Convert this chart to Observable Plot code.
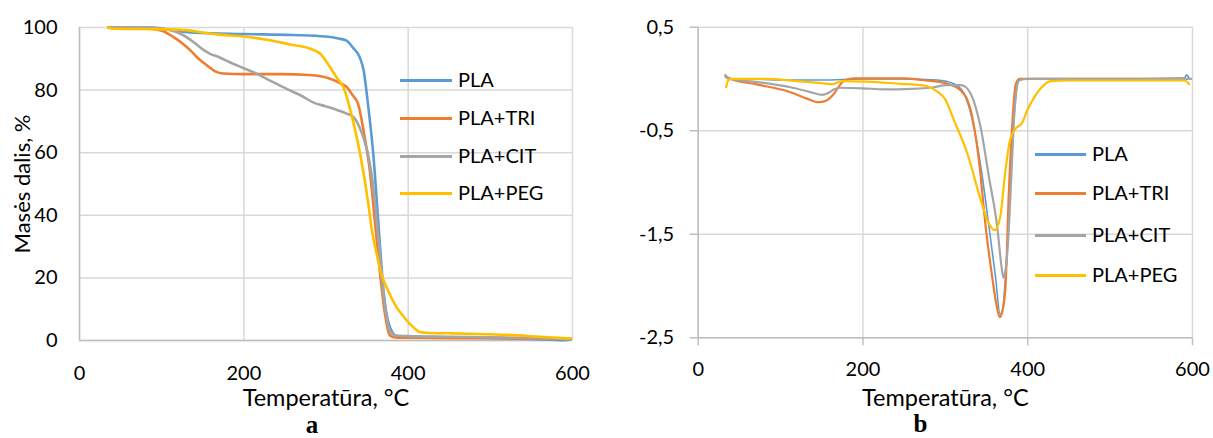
<!DOCTYPE html>
<html>
<head>
<meta charset="utf-8">
<script src="https://cdn.jsdelivr.net/npm/d3@7"></script>
<script src="https://cdn.jsdelivr.net/npm/@observablehq/plot@0.6"></script>
<style>
  html, body { margin: 0; padding: 0; background: #fff; }
  #wrap { position: relative; width: 1213px; height: 438px; overflow: hidden; font-family: Lato, "Liberation Sans", sans-serif; }
  .panel { position: absolute; top: 0; }
  .leg { position: absolute; font-size: 20px; color: #000; line-height: 1; white-space: nowrap; }
</style>
</head>
<body>
<div id="wrap"></div>
<script>
// ---------- data ----------
const seriesNames = ["PLA", "PLA+TRI", "PLA+CIT", "PLA+PEG"];
const seriesColors = ["#5B9BD5", "#ED7D31", "#A5A5A5", "#FFC000"];
const xTicks = [0, 200, 400, 600];
const yTicksA = [0, 20, 40, 60, 80, 100];
const yTicksB = [-2.5, -1.5, -0.5, 0.5];

// Panel a: TGA, mass %
const aPLA_T = [35, 80, 100, 120, 140, 200, 260, 300, 315, 325, 333, 341, 346, 351, 357.5, 363.6, 369.6, 374, 377.7, 381, 384, 390, 400, 450, 500, 550, 590, 598];
const aPLA_V = [100, 100, 99.6, 98.8, 98.3, 97.9, 97.6, 97.1, 96.5, 95.8, 93.5, 90.5, 86, 75.7, 59.7, 38, 17, 8, 4.3, 2.5, 1.6, 1.3, 1.2, 1.0, 0.8, 0.5, 0.1, 0.4];
const aTRI_T = [35, 80, 100, 114, 125, 135, 145, 155, 165, 175, 200, 244, 280, 305, 315, 325, 332, 339, 343, 347, 353.5, 359.5, 365.6, 371.7, 377.7, 384, 400, 500, 598];
const aTRI_V = [100, 99.7, 99, 97, 95, 92.7, 90, 87.9, 86, 85.3, 85.1, 85.1, 84.8, 83.6, 82.5, 81, 78.5, 75.6, 71, 65, 54, 38, 22, 8.6, 1.6, 1.0, 0.9, 0.7, 0.5];
const aCIT_T = [35, 90, 110, 123, 139, 150, 159, 170, 183, 200, 216, 235, 256, 270, 285, 300, 315, 325, 333, 341, 346, 351, 357.5, 363.6, 369.6, 374, 378, 384, 400, 450, 500, 550, 598];
const aCIT_V = [100, 100, 99.2, 98, 95.3, 93, 91.6, 90.5, 88.9, 87, 85.2, 82.6, 79.9, 78.2, 76, 74.8, 73.5, 72.5, 71.5, 68, 64.5, 59.7, 49, 33, 16, 7, 3, 1.6, 1.4, 1.2, 1.0, 0.8, 0.5];
const aPEG_T = [35, 40, 80, 110, 135, 150, 167, 200, 230, 256, 281, 293, 305, 313, 321, 333, 343, 351.5, 356, 361.6, 367, 373.7, 380, 386, 395, 402, 408, 414, 425, 450, 487, 520, 560, 598];
const aPEG_V = [100, 99.6, 99.5, 99.4, 99, 98.4, 97.8, 97.1, 96, 94.6, 93.2, 91.6, 87.3, 84, 81, 70, 57.5, 43.7, 35, 27.7, 21.5, 17, 13.5, 10.6, 7.5, 5.3, 3.8, 2.7, 2.4, 2.3, 2.1, 1.8, 1.2, 0.6];

// Panel b: DTG
const bPLA_T = [33, 36, 60, 100, 150, 175, 200, 250, 290, 310.5, 322.6, 334.8, 345, 353, 361, 366.4, 369, 373, 378.5, 382.6, 387.5, 391, 450, 500, 590, 593, 596];
const bPLA_V = [0.04, 0, 0, -0.01, -0.01, -0.005, 0, 0, -0.01, -0.047, -0.14, -0.47, -0.95, -1.43, -1.92, -2.27, -2.25, -1.92, -1.11, -0.47, -0.05, 0, 0, 0, 0.01, 0.04, 0];
const bTRI_T = [33, 40, 72, 112, 132, 146, 155, 165, 172, 178, 190, 250, 270, 300, 318.6, 330.7, 340.8, 349, 357, 362, 366, 369, 373, 377, 381, 385.4, 390, 450, 598];
const bTRI_V = [0.03, 0, -0.054, -0.128, -0.19, -0.225, -0.21, -0.14, -0.06, -0.01, 0.005, 0.005, -0.01, -0.04, -0.11, -0.3, -0.79, -1.43, -1.92, -2.18, -2.3, -2.25, -2.01, -1.11, -0.47, -0.05, 0, 0, 0];
const bCIT_T = [33, 40, 72, 112, 135, 150, 158, 165, 172, 200, 225, 260, 286, 300, 318.6, 325, 330.7, 342.9, 353, 363, 368, 370.4, 373, 376, 380, 384, 389.4, 400, 598];
const bCIT_V = [0.02, 0, -0.03, -0.08, -0.125, -0.153, -0.135, -0.1, -0.085, -0.09, -0.1, -0.095, -0.08, -0.06, -0.06, -0.08, -0.14, -0.47, -0.95, -1.43, -1.8, -1.92, -1.85, -1.59, -0.95, -0.3, -0.015, 0, 0];
const bPEG_T = [34, 36, 40, 80, 120, 150, 163, 175, 205, 246, 270, 278, 290, 300, 310.5, 326.7, 343, 353, 360, 366.4, 373, 378.5, 385.4, 393.5, 399.6, 407.6, 415.8, 428, 450, 500, 590, 596];
const bPEG_V = [-0.08, -0.02, 0, 0, -0.02, -0.04, -0.05, -0.02, -0.025, -0.047, -0.06, -0.07, -0.12, -0.2, -0.4, -0.72, -1.17, -1.4, -1.46, -1.34, -0.88, -0.59, -0.48, -0.42, -0.3, -0.18, -0.09, -0.02, -0.015, -0.015, -0.015, -0.05];

// ---------- build tables ----------
function rows(name, T, V) { return T.map((t, i) => ({ s: name, t, v: V[i] })); }
const dataA = [
  rows("PLA", aPLA_T, aPLA_V), rows("PLA+TRI", aTRI_T, aTRI_V),
  rows("PLA+CIT", aCIT_T, aCIT_V), rows("PLA+PEG", aPEG_T, aPEG_V)
];
const dataB = [
  rows("PLA", bPLA_T, bPLA_V), rows("PLA+TRI", bTRI_T, bTRI_V),
  rows("PLA+CIT", bCIT_T, bCIT_V), rows("PLA+PEG", bPEG_T, bPEG_V)
];

const FONT = "Lato, 'Liberation Sans', sans-serif";
const SERIF = "'Liberation Serif', 'Times New Roman', serif";
const GRID = "#d9d9d9";
const AXIS = "#bfbfbf";
const comma = d => String(d).replace(".", ",");

// ---------- panel a ----------
const plotA = Plot.plot({
  width: 600, height: 438,
  marginLeft: 79, marginRight: 28, marginTop: 27, marginBottom: 98,
  style: { fontFamily: FONT, fontSize: "20px", color: "#000", background: "transparent" },
  x: { domain: [0, 600] },
  y: { domain: [0, 100] },
  marks: [
    Plot.gridX(xTicks, { stroke: GRID, strokeOpacity: 1, strokeWidth: 1.5 }),
    Plot.gridY(yTicksA, { stroke: GRID, strokeOpacity: 1, strokeWidth: 1.5 }),
    Plot.ruleY([0], { stroke: AXIS, strokeWidth: 1.5 }),
    Plot.ruleX([0], { stroke: AXIS, strokeWidth: 1.5 }),
    Plot.axisX(xTicks, { tickSize: 0, tickPadding: 25, label: null, fontSize: 20 }),
    Plot.axisY(yTicksA, { tickSize: 0, tickPadding: 22, label: null, fontSize: 20 }),
    ...dataA.map((d, i) => Plot.line(d, { x: "t", y: "v", stroke: seriesColors[i], strokeWidth: 2.6, curve: "monotone-x" })),
    Plot.text(["Temperatūra, °C"], { frameAnchor: "bottom", lineAnchor: "bottom", dy: 65, fontSize: 23.5, fill: "#000" }),
    Plot.text(["Masės dalis, %"], { frameAnchor: "left", textAnchor: "middle", lineAnchor: "middle", dx: -57, rotate: -90, fontSize: 22, fill: "#000" }),
    Plot.text(["a"], { frameAnchor: "bottom", lineAnchor: "bottom", dx: -14, dy: 92, fontSize: 25, fontWeight: "bold", fontFamily: SERIF, fill: "#000" })
  ]
});

// ---------- panel b ----------
const plotB = Plot.plot({
  width: 613, height: 438,
  marginLeft: 97.7, marginRight: 21, marginTop: 26.7, marginBottom: 100.7,
  style: { fontFamily: FONT, fontSize: "20px", color: "#000", background: "transparent" },
  x: { domain: [0, 600] },
  y: { domain: [-2.5, 0.5] },
  marks: [
    Plot.gridX(xTicks, { stroke: GRID, strokeOpacity: 1, strokeWidth: 1.5 }),
    Plot.gridY(yTicksB, { stroke: GRID, strokeOpacity: 1, strokeWidth: 1.5 }),
    Plot.ruleY([-2.5], { stroke: AXIS, strokeWidth: 1.5 }),
    Plot.ruleX([0], { stroke: AXIS, strokeWidth: 1.5 }),
    Plot.axisX(xTicks, { tickSize: 8, tickPadding: 16, stroke: AXIS, strokeWidth: 1.5, label: null, fontSize: 20 }),
    Plot.axisY(yTicksB, { tickSize: 8, tickPadding: 16, stroke: AXIS, strokeWidth: 1.5, tickFormat: comma, label: null, fontSize: 20 }),
    ...dataB.map((d, i) => Plot.line(d, { x: "t", y: "v", stroke: seriesColors[i], strokeWidth: i === 0 ? 1.6 : 2.2, curve: "monotone-x" })),
    Plot.text(["Temperatūra, °C"], { frameAnchor: "bottom", lineAnchor: "bottom", dy: 68, fontSize: 23.5, fill: "#000" }),
    Plot.text(["b"], { frameAnchor: "bottom", lineAnchor: "bottom", dx: -25, dy: 94, fontSize: 25, fontWeight: "bold", fontFamily: SERIF, fill: "#000" })
  ]
});

const wrap = document.getElementById("wrap");
plotA.classList.add("panel"); plotA.style.left = "0px";
plotB.classList.add("panel"); plotB.style.left = "600px";
wrap.appendChild(plotA);
wrap.appendChild(plotB);

// ---------- legends ----------
function legend(left, textLeft, rowsY) {
  seriesNames.forEach((name, i) => {
    const sw = document.createElement("div");
    sw.className = "leg";
    sw.style.left = left + "px";
    sw.style.top = (rowsY[i] - 1.5) + "px";
    sw.style.width = (textLeft - left - 6) + "px";
    sw.style.height = "3px";
    sw.style.background = seriesColors[i];
    wrap.appendChild(sw);
    const tx = document.createElement("div");
    tx.className = "leg";
    tx.textContent = name;
    tx.style.left = textLeft + "px";
    tx.style.top = (rowsY[i] - 11) + "px";
    wrap.appendChild(tx);
  });
}
legend(400, 458, [80, 118, 156, 193]);
legend(1035, 1092, [154, 193, 235, 275]);
</script>
</body>
</html>
